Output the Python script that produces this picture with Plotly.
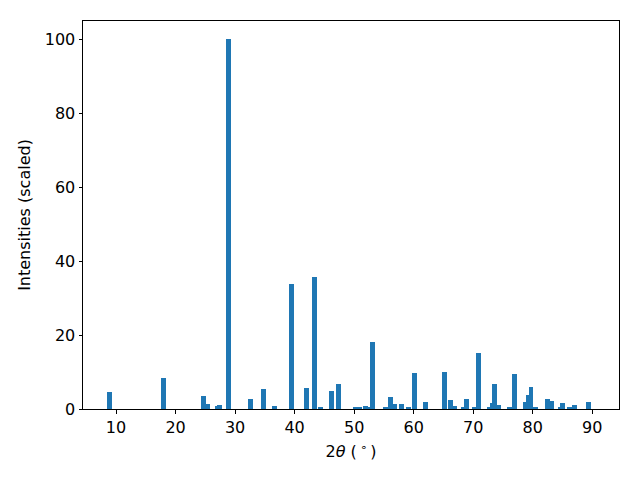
import plotly.graph_objects as go

two_theta = [8.85, 17.93, 24.74, 25.41, 27.09, 27.43, 28.94, 32.55, 34.74, 36.59,
             39.45, 41.97, 43.31, 44.32, 46.17, 47.34, 50.2, 50.9, 51.97, 52.5,
             53.06, 55.33, 56.08, 56.84, 58.0, 59.1, 60.1, 61.97, 65.24, 66.17,
             66.84, 68.4, 68.86, 70.2, 70.87, 72.8, 73.2, 73.56, 74.23, 76.1,
             77.0, 78.69, 79.3, 79.7, 80.45, 82.55, 83.13, 84.6, 85.0, 86.2,
             87.05, 89.37]
intensity = [4.7, 8.5, 3.6, 1.4, 0.9, 1.2, 100, 2.8, 5.5, 0.9,
             33.9, 5.8, 35.7, 0.6, 4.9, 6.8, 0.6, 0.4, 0.9, 0.35,
             18.2, 0.6, 3.3, 1.4, 1.4, 0.35, 9.8, 2.0, 10.1, 2.5,
             0.9, 0.35, 2.8, 0.35, 15.2, 0.6, 1.6, 6.8, 1.2, 0.35,
             9.6, 2.0, 3.9, 6.0, 0.35, 2.8, 2.3, 0.35, 1.6, 0.35,
             1.2, 2.0]
x_ticks = [10, 20, 30, 40, 50, 60, 70, 80, 90]
y_ticks = [0, 20, 40, 60, 80, 100]

fig = go.Figure(go.Bar(x=two_theta, y=intensity, width=0.8,
                       marker=dict(color="#1f77b4", line=dict(width=0))))

font = dict(family="DejaVu Sans", size=16, color="black")
axis_common = dict(showline=True, linecolor="black", linewidth=1, mirror=True,
                   ticks="outside", ticklen=3.5, tickwidth=1, tickcolor="black",
                   showgrid=False, zeroline=False, tickfont=font)
fig.update_layout(
    width=640, height=480,
    margin=dict(l=75, r=29, t=13, b=79),
    plot_bgcolor="white", paper_bgcolor="white",
    barmode="overlay", bargap=0,
    showlegend=False,
    font=font,
    xaxis=dict(range=[4.45, 94.5], tickvals=x_ticks,
               title=dict(text="2<i>θ</i> (\u2009<sup>∘</sup>\u2009)", font=font, standoff=10),
               **axis_common),
    yaxis=dict(range=[0, 105], tickvals=y_ticks,
               title=dict(text="Intensities (scaled)", font=font, standoff=10),
               **axis_common),
)
fig.write_html("out.html")
